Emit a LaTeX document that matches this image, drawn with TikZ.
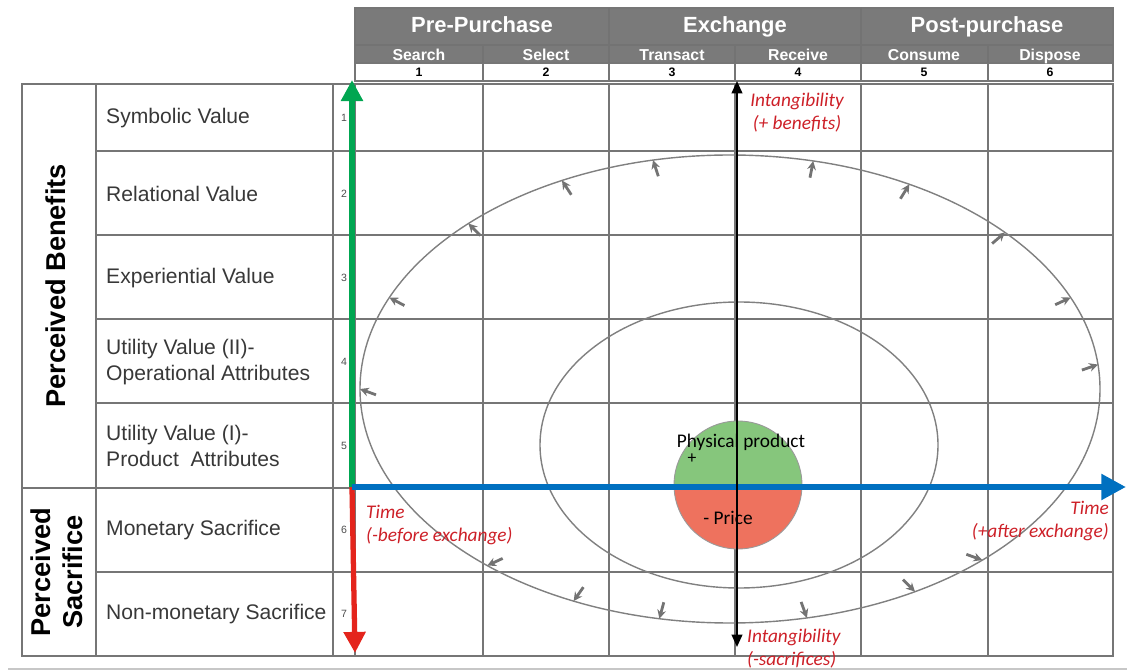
\documentclass[tikz,border=0pt]{standalone}
\usepackage{fontspec}
\setmainfont{Liberation Sans}
\newfontfamily\calibri{Carlito}
\usetikzlibrary{arrows.meta}

\definecolor{hdrgray}{RGB}{122,122,122}
\definecolor{linegray}{RGB}{118,118,118}
\definecolor{timegreen}{RGB}{0,166,81}
\definecolor{timered}{RGB}{228,36,28}
\definecolor{timeblue}{RGB}{0,112,192}
\definecolor{notered}{RGB}{205,32,40}
\definecolor{prodgreen}{RGB}{134,198,124}
\definecolor{pricered}{RGB}{238,114,94}

\tikzset{
  gridline/.style = {linegray, line width = 0.85pt},
  phase/.style = {text = white, text height = 1.7ex, text depth = 0.4ex, font = \bfseries\fontsize{12.5}{14}\selectfont},
  stage/.style = {text = white, text height = 1.7ex, text depth = 0.4ex, font = \bfseries\fontsize{9}{10}\selectfont},
  stagenum/.style = {font = \bfseries\fontsize{7}{8}\selectfont},
  rowname/.style = {anchor = west, align = left, text = black!78, font = \fontsize{12}{14.5}\selectfont},
  rownum/.style = {text = black!70, font = \fontsize{6}{7}\selectfont},
  group/.style = {rotate = 90, align = center, font = \bfseries\fontsize{15.5}{18}\selectfont},
  note/.style = {text = notered, font = \calibri\itshape\fontsize{11}{13}\selectfont},
  orbit/.style = {black!50, line width = 0.8pt},
  flow/.style = {black!55, line width = 1.6pt, -{Stealth[length = 5pt, width = 5pt]}},
  axis/.style = {line width = 3pt, -{Triangle[length = 12pt, width = 12pt]}}
}

\begin{document}
\begin{tikzpicture}[x = 0.02cm, y = 0.02cm]
		\useasboundingbox (0, 0) rectangle (1127, -672);
		%%%%%%%%%%%%% header
		\fill[hdrgray] (355, -8) rectangle (1113, -63);
		\draw[gridline] (355, -8) rectangle (1113, -81);
		\draw[gridline, black!55] (355, -45) to (1113, -45); \draw[gridline] (355, -63) to (1113, -63);
		\draw[gridline, black!55] (609, -8) to (609, -63); \draw[gridline, black!55] (861, -8) to (861, -63);
		\draw[gridline] (609, -63) to (609, -81); \draw[gridline] (861, -63) to (861, -81);
		\draw[gridline, black!55] (483, -45) to (483, -63); \draw[gridline, black!55] (735, -45) to (735, -63); \draw[gridline, black!55] (988, -45) to (988, -63);
		\draw[gridline] (483, -63) to (483, -81); \draw[gridline] (735, -63) to (735, -81); \draw[gridline] (988, -63) to (988, -81);
		\node[phase] (pre) at (482, -26) {Pre-Purchase};
		\node[phase] (exch) at (735, -26) {Exchange};
		\node[phase] (post) at (987, -26) {Post-purchase};
		\node[stage] (s1) at (419, -54) {Search};
		\node[stage] (s2) at (546, -54) {Select};
		\node[stage] (s3) at (672, -54) {Transact};
		\node[stage] (s4) at (798, -54) {Receive};
		\node[stage] (s5) at (924, -54) {Consume};
		\node[stage] (s6) at (1050, -54) {Dispose};
		\node[stagenum] (n1) at (419, -72) {1}; \node[stagenum] (n2) at (546, -72) {2};
		\node[stagenum] (n3) at (672, -72) {3}; \node[stagenum] (n4) at (798, -72) {4};
		\node[stagenum] (n5) at (924, -72) {5}; \node[stagenum] (n6) at (1050, -72) {6};
		%%%%%%%%%%%%% grid
		\draw[gridline] (22, -84) rectangle (1113, -656);
		\draw[gridline] (22, -488) to (1113, -488);
		\foreach \y in {151, 235, 319, 403, 572} \draw[gridline] (96, -\y) to (1113, -\y);
		\foreach \x in {96, 333, 355, 483, 609, 735, 861, 988} \draw[gridline] (\x, -84) to (\x, -656);
		\draw[black!22, line width = 1.4pt] (8, -669) to (1127, -669);
		%%%%%%%%%%%%% rows
		\node[group] (ben) at (56, -286) {Perceived Benefits};
		\node[group] (sac) at (57, -572) {Perceived\\Sacrifice};
		\node[rowname] (r1) at (100, -118) {Symbolic Value};
		\node[rowname] (r2) at (100, -194) {Relational Value};
		\node[rowname] (r3) at (100, -278) {Experiential Value};
		\node[rowname] (r4) at (100, -362) {Utility Value (II)-\\Operational Attributes};
		\node[rowname] (r5) at (100, -446) {Utility Value (I)-\\Product\ \ Attributes};
		\node[rowname] (r6) at (100, -530) {Monetary Sacrifice};
		\node[rowname] (r7) at (100, -614) {Non-monetary Sacrifice};
		\node[rownum] (k1) at (344, -118) {1}; \node[rownum] (k2) at (344, -194) {2};
		\node[rownum] (k3) at (344, -278) {3}; \node[rownum] (k4) at (344, -362) {4};
		\node[rownum] (k5) at (344, -446) {5}; \node[rownum] (k6) at (344, -530) {6};
		\node[rownum] (k7) at (344, -614) {7};
		%%%%%%%%%%%%% orbits
		\coordinate (e) at (730, -389);
		\draw[orbit] (e) ellipse [x radius = 370, y radius = 234];
		\draw[orbit] (739, -445) ellipse [x radius = 199, y radius = 143];
		\foreach \t/\d in {180/160, 157/152, 135/135, 117/123, 102/108, 77/79, 61/58, 42/41, 23/25, 6/19,
		                   229/205, 245/235, 259/255, 282/290, 300/315, 313/340}
		    \draw[flow] (e) ++(\t:370 and 234) coordinate (p) ++(\d+180:17) to (p);
		%%%%%%%%%%%%% product
		\coordinate (c) at (738, -485);
		\fill[prodgreen] (c) ++(64, 0) arc (0:180:64) -- cycle;
		\fill[pricered] (c) ++(-64, 0) arc (180:360:64) -- cycle;
		\draw[black!40, line width = 0.5pt] (c) circle [radius = 64];
		\node[font = \calibri\fontsize{11}{13}\selectfont] (phys) at (741, -442) {Physical product};
		\node[font = \calibri\fontsize{10}{12}\selectfont] (plus) at (692, -459) {+};
		\node[font = \calibri\fontsize{11}{13}\selectfont] (price) at (728, -518) {- Price};
		%%%%%%%%%%%%% axes
		\coordinate (o) at (352, -487);
		\coordinate (up) at (352, -80); \coordinate (down) at (355, -653);
		\coordinate (right) at (1126, -487);
		\coordinate (itop) at (737, -81); \coordinate (ibot) at (737, -647);
		\draw[axis, timegreen] (o) to (up);
		\draw[axis, timered] (o) to (down);
		\draw[axis, timeblue, line width = 3.6pt, -{Triangle[length = 14pt, width = 14pt]}] (o) to (right);
		\draw[line width = 1.2pt, {Triangle[length = 7pt, width = 6pt]}-{Triangle[length = 7pt, width = 6pt]}] (ibot) to (itop);
		%%%%%%%%%%%%% notes
		\node[note, align = center] (ben+) at (797, -113) {Intangibility\\(+ benefits)};
		\node[note, align = left, anchor = west] (sac-) at (741, -649) {Intangibility\\(-sacrifices)};
		\node[note, align = left, anchor = west] (before) at (360, -525) {Time\\(-before exchange)};
		\node[note, align = right, anchor = east] (after) at (1115, -521) {Time\\(+after exchange)};
\end{tikzpicture}
\end{document}
